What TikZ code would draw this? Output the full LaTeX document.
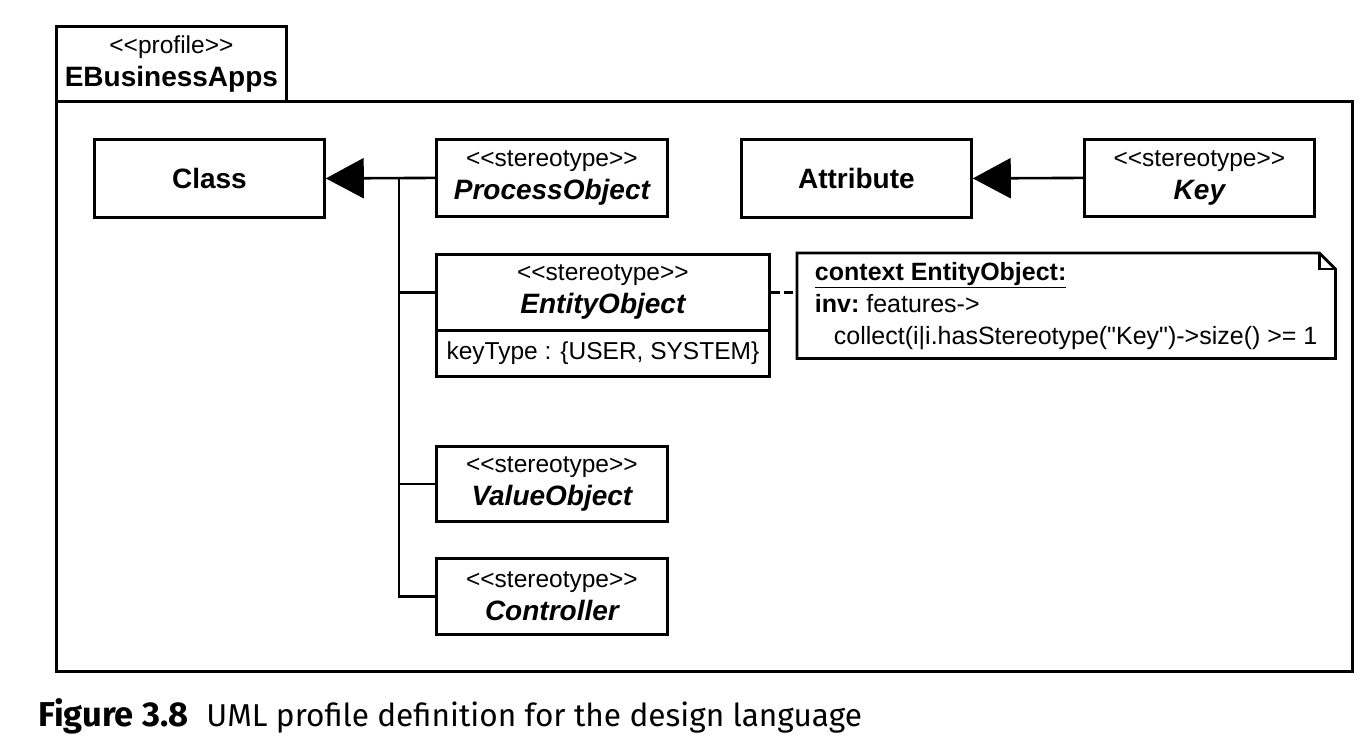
\documentclass[tikz,border=0pt]{standalone}
\usepackage{fontspec}
\setmainfont{Liberation Sans}
\newfontfamily\capfont{Fira Sans}
\usetikzlibrary{arrows.meta}
\newcommand\stf{\fontsize{24.5}{33}\selectfont}
\newcommand\nmf{\fontsize{28}{33}\selectfont\bfseries\itshape}
\newcommand\bnf{\fontsize{28}{33}\selectfont\bfseries}
\newcommand\ntf{\fontsize{25}{32}\selectfont}
\newcommand\sq{\XeTeXglyph\XeTeXglyphindex "quotedbl"\relax}
\begin{document}
\begin{tikzpicture}[x=1pt,y=-1pt,
  box/.style={draw, line width=2.8pt, inner sep=0pt, anchor=north west, align=center, font=\stf},
  frame/.style={draw, line width=2.8pt, inner sep=0pt, anchor=north west},
  conn/.style={line width=2.6pt},
  gen/.style={conn, -{Triangle[length=38pt,width=40pt]}},
  dashconn/.style={conn, dash pattern=on 9pt off 4pt}]
\useasboundingbox (0,0) rectangle (1372,748);

% package
\node[frame, minimum width=1296pt, minimum height=570pt] (pkg) at (55,100) {};
\node[box, minimum width=230pt, minimum height=75pt] (tab) at (55,25)
  {<{}<profile>{}>\\{\bnf EBusinessApps}};

% classes
\node[box, minimum width=230pt, minimum height=78pt] (class) at (93,138) {\bnf Class};
\node[box, minimum width=231pt, minimum height=77pt] (process) at (435,138)
  {<{}<stereotype>{}>\\{\nmf ProcessObject}};
\node[box, minimum width=333pt, minimum height=76pt] (entity) at (435,253)
  {<{}<stereotype>{}>\\{\nmf EntityObject}};
\node[box, minimum width=333pt, minimum height=46pt] (entattr) at (435,329)
  {keyType : \{USER, SYSTEM\}};
\node[box, minimum width=231pt, minimum height=75pt] (value) at (435,445)
  {<{}<stereotype>{}>\\{\nmf ValueObject}};
\node[box, minimum width=231pt, minimum height=76pt] (controller) at (435,557)
  {<{}<stereotype>{}>\\{\nmf Controller}};
\node[box, minimum width=230pt, minimum height=78pt] (attribute) at (740,138) {\bnf Attribute};
\node[box, minimum width=230pt, minimum height=77pt] (key) at (1083,138)
  {<{}<stereotype>{}>\\{\nmf Key}};

% note
\node[inner sep=0pt, anchor=north west, minimum width=538pt, minimum height=105pt,
      align=left, font=\ntf] (note) at (797,253)
  {{\bfseries\underline{context EntityObject:}}\\
   {\bfseries inv:}~features->\\
   \hspace*{19pt}collect(i|i.hasStereotype(\sq Key\sq)->size() >= 1};
\draw[line width=2.8pt, line join=miter]
  (note.north west) -- ([xshift=-16pt]note.north east)
  -- ([yshift=-16pt]note.north east) -- (note.south east)
  -- (note.south west) -- cycle;
\draw[line width=2.4pt]
  ([xshift=-16pt]note.north east) -- ([xshift=-16pt,yshift=-16pt]note.north east)
  -- ([yshift=-16pt]note.north east);

% connectors
\coordinate (jc) at (399,176.5);
\draw[gen] (process.west) -- (class.east);
\draw[conn] (jc) -- (jc |- controller.west) -- (controller.west);
\draw[conn] (jc |- entity.west) -- (entity.west);
\draw[conn] (jc |- value.west) -- (value.west);
\draw[gen] (key.west) -- (attribute.east);
\draw[dashconn] (entity.east) -- (entity.east -| note.west);

% caption
\node[anchor=west, inner sep=0pt, font=\capfont\fontsize{31.6}{36}\selectfont] (cap) at (38,716)
  {{\fontsize{34.5}{36}\selectfont\bfseries Figure 3.8}\hspace{18pt}UML profile definition for the design language};
\end{tikzpicture}
\end{document}
